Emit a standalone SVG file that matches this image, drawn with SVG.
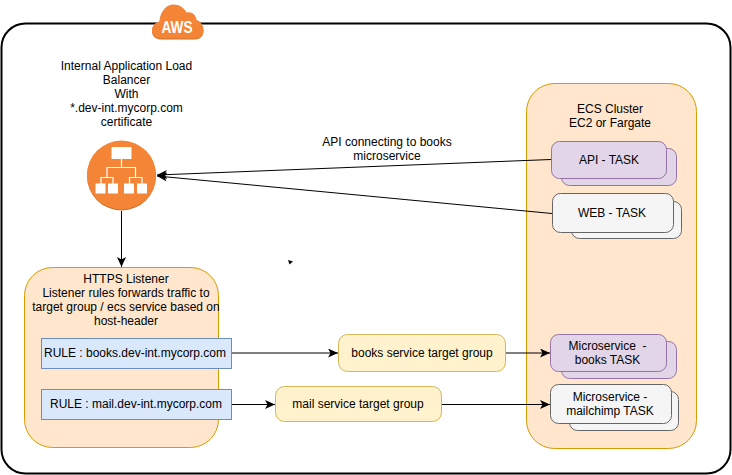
<svg xmlns="http://www.w3.org/2000/svg" width="732" height="475" viewBox="0 0 732 475">
<style>
text{font-family:"Liberation Sans",Arial,sans-serif;font-size:12px;fill:#000;text-anchor:middle}
.c{fill:#ffe6cc;stroke:#d79b00;stroke-width:1}
.p{fill:#e1d5e7;stroke:#9673a6;stroke-width:1}
.w{fill:#f5f5f5;stroke:#666;stroke-width:1}
.b{fill:#dae8fc;stroke:#6c8ebf;stroke-width:1}
.y{fill:#fff2cc;stroke:#d6b656;stroke-width:1}
.l{fill:none;stroke:#000;stroke-width:1}
.o{fill:#f58536}
.s{fill:#c96f2a}
.i{fill:#fff}
.n{fill:none;stroke:#fff;stroke-width:1.200}
</style>
<defs><marker id="a" markerUnits="userSpaceOnUse" markerWidth="12" markerHeight="10" refX="10" refY="4.500" orient="auto"><path d="M0 0L10 4.500L0 9L2.500 4.500Z" fill="#000"/></marker>
<path id="cloud" d="M161 38.500C155 38.500 152 34.500 152 30.500C152 26 155 22.500 159.500 21.500C160 12 166 4.500 173.500 4.500C179.500 4.500 184 8 186.500 12.500C191.500 11 196 14.500 196.500 20C200.500 21 203.500 25.500 203.500 30C203.500 35 199.500 38.500 195 38.500Z"/></defs>
<rect width="732" height="475" fill="#fff"/>
<rect id="aws-frame" x="1.500" y="23.500" width="729" height="450" rx="24" fill="#fff" stroke="#000" stroke-width="2"/>
<g id="aws-badge">
<use href="#cloud" class="s" y="1"/>
<use href="#cloud" class="o"/>
<text x="177" y="33" style="font-size:16px;font-weight:bold;fill:#fff" textLength="31" lengthAdjust="spacingAndGlyphs">AWS</text>
</g>
<g id="alb">
<circle class="s" cx="121.500" cy="176" r="34.500"/>
<circle class="o" cx="121.500" cy="175" r="34.500"/>
<text x="126.500" y="70">Internal Application Load</text><text x="126.500" y="84">Balancer</text><text x="126.500" y="98">With</text><text x="126.500" y="112">*.dev-int.mycorp.com</text><text x="126.500" y="126">certificate</text>
<rect class="i" x="111.500" y="147" width="20" height="12"/>
<path class="n" d="M121.500 159V167M107 178V167.500H135.500V178M101 184V177.500H113V184M129.500 184V177.500H142V184"/>
<rect class="i" x="95.500" y="183.500" width="10" height="10"/><rect class="i" x="108" y="183.500" width="10" height="10"/><rect class="i" x="124" y="183.500" width="10" height="10"/><rect class="i" x="137" y="183.500" width="10" height="10"/>
</g>
<g id="https-listener">
<rect class="c" x="24.500" y="267.500" width="194" height="180" rx="28"/>
<text x="126" y="283">HTTPS Listener</text><text x="126" y="297">Listener rules forwards traffic to</text><text x="126" y="311">target group / ecs service based on</text><text x="126" y="325">host-header</text>
</g>
<g id="rule-books"><rect class="b" x="41.500" y="338.500" width="190" height="30"/><text x="135" y="357">RULE : books.dev-int.mycorp.com</text></g>
<g id="rule-mail"><rect class="b" x="41.500" y="389.500" width="190" height="30"/><text x="136" y="408">RULE : mail.dev-int.mycorp.com</text></g>
<g id="books-tg"><rect class="y" x="338.500" y="334.500" width="167" height="37" rx="9"/><text x="422" y="357">books service target group</text></g>
<g id="mail-tg"><rect class="y" x="275.500" y="386.500" width="166" height="35" rx="9"/><text x="358" y="408">mail service target group</text></g>
<g id="ecs-cluster">
<rect class="c" x="526.500" y="83.500" width="170" height="365" rx="28"/>
<text x="610" y="113">ECS Cluster</text><text x="610" y="127">EC2 or Fargate</text>
</g>
<g id="api-task"><rect class="p" x="561.500" y="148.500" width="115" height="37" rx="8"/><rect class="p" x="551.500" y="141.500" width="115" height="37" rx="8"/><text x="609" y="164">API - TASK</text></g>
<g id="web-task"><rect class="w" x="571.500" y="201.500" width="110" height="37" rx="8"/><rect class="w" x="552.500" y="193.500" width="121" height="39" rx="8"/><text x="612" y="217">WEB - TASK</text></g>
<g id="books-task"><rect class="p" x="561.500" y="341.500" width="115" height="37" rx="8"/><rect class="p" x="550.500" y="334.500" width="116" height="37" rx="8"/><text x="607.500" y="350" xml:space="preserve">Microservice  -</text><text x="607.500" y="364">books TASK</text></g>
<g id="mail-task"><rect class="w" x="569.500" y="391.500" width="109" height="39" rx="8"/><rect class="w" x="550.500" y="384.500" width="121" height="39" rx="8"/><text x="610" y="401">Microservice -</text><text x="610" y="415">mailchimp TASK</text></g>
<g id="connectors">
<path class="l" d="M551 159.500L157 175" marker-end="url(#a)"/>
<path class="l" d="M552 213.500L157 176" marker-end="url(#a)"/>
<path class="l" d="M121.500 211V267" marker-end="url(#a)"/>
<path class="l" d="M232 353H338" marker-end="url(#a)"/>
<path class="l" d="M232 404.500H275" marker-end="url(#a)"/>
<path class="l" d="M506 353H550" marker-end="url(#a)"/>
<path class="l" d="M442 404.500H550" marker-end="url(#a)"/>
<path d="M288 260L293 261.500L289.500 264.500Z" fill="#000"/>
</g>
<text x="387" y="146">API connecting to books</text><text x="387" y="160">microservice</text>
</svg>
